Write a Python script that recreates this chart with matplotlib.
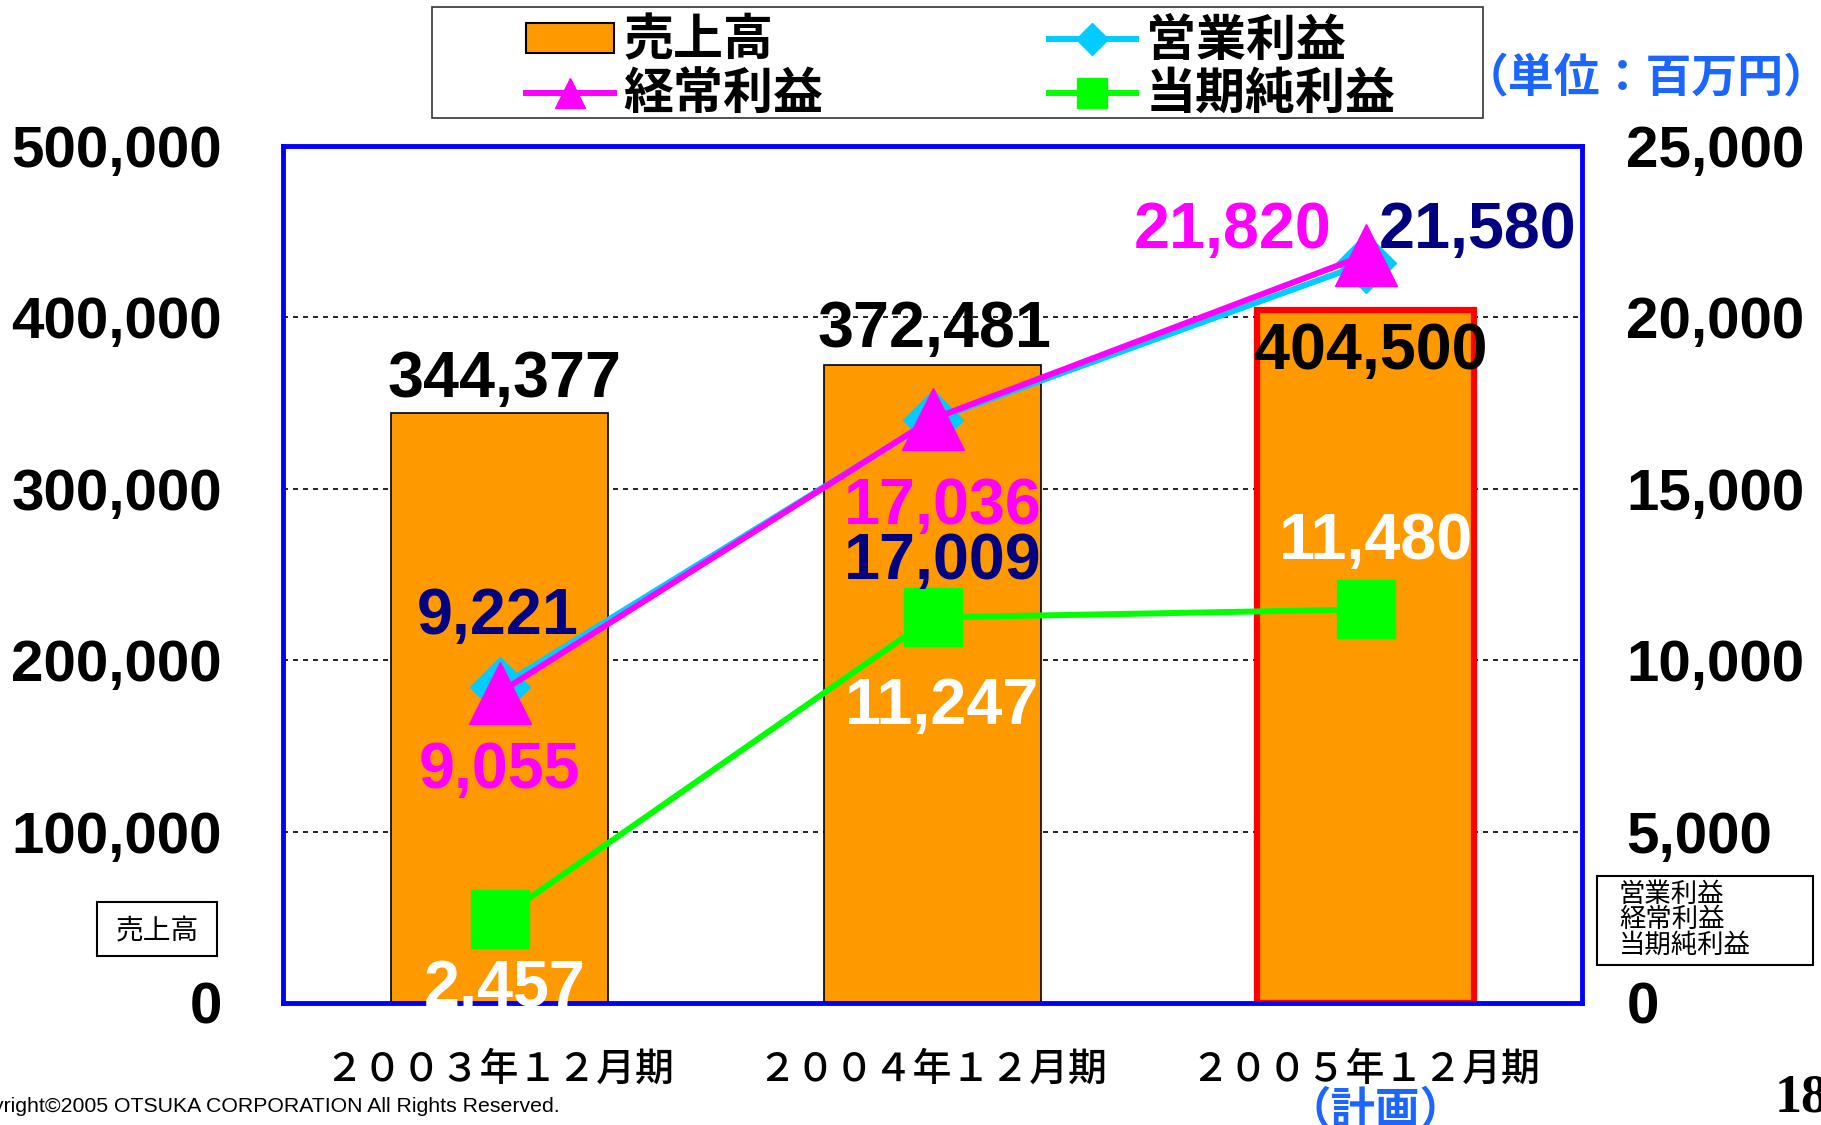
import matplotlib
matplotlib.use('Agg')
import matplotlib.pyplot as plt
from matplotlib.lines import Line2D
from matplotlib.patches import Patch, Rectangle

# data (百万円)
periods = ['２００３年１２月期', '２００４年１２月期', '２００５年１２月期']
sales = [344377, 372481, 404500]          # 売上高
op_profit = [9221, 17009, 21580]          # 営業利益
ord_profit = [9055, 17036, 21820]         # 経常利益
net_profit = [2457, 11247, 11480]         # 当期純利益
left_ticks = [0, 100000, 200000, 300000, 400000, 500000]
right_ticks = [0, 5000, 10000, 15000, 20000, 25000]

W, H = 1821, 1125
JP = 'Noto Sans CJK JP'
NUM = 'Liberation Sans'

def fx(px):
    return px / W

def fy(py):
    return 1 - py / H

fig = plt.figure(figsize=(W / 100, H / 100), dpi=100)
ax = fig.add_axes([fx(283), fy(1003), fx(1582) - fx(283), fy(146) - fy(1003)])
ax2 = ax.twinx()

x = list(range(len(periods)))

# bars
ax.bar(x, sales, width=0.5, color='#FF9900',
       edgecolor=['black', 'black', '#FF0000'], linewidth=[1.2, 1.2, 4.5], zorder=2)
ax.set_xlim(-0.5, 2.5)
ax.set_ylim(0, 500000)
ax.set_yticks(left_ticks)
ax.set_yticklabels(['{:,}'.format(v) for v in left_ticks], fontfamily=NUM,
                   fontweight='bold', fontsize=42)
ax.tick_params(axis='y', length=0, pad=44)
ax.set_xticks(x)
ax.set_xticklabels(periods, fontfamily=JP, fontsize=28, fontweight='medium')
ax.tick_params(axis='x', length=0, pad=34)
ax.set_axisbelow(True)
ax.yaxis.grid(True, color='black', linestyle=(0, (3, 3)), linewidth=1.2)
for s in ax.spines.values():
    s.set_color('#0000FF')
    s.set_linewidth(3.5)

# lines
ax2.plot(x, op_profit, color='#00CCFF', lw=4.3, marker='D', ms=31, zorder=3)
ax2.plot(x, ord_profit, color='#FF00FF', lw=4.3, marker='^', ms=44, zorder=4)
ax2.plot(x, net_profit, color='#00FF00', lw=4.3, marker='s', ms=42, zorder=5)
ax2.set_ylim(0, 25000)
ax2.set_yticks(right_ticks)
ax2.set_yticklabels(['{:,}'.format(v) for v in right_ticks], fontfamily=NUM,
                    fontweight='bold', fontsize=42)
ax2.tick_params(axis='y', length=0, pad=32)
for s in ax2.spines.values():
    s.set_visible(False)

# value labels (offsets in pixels from the point)
def label(axis, xs, ys, offs, color):
    for xi, yi, (dx, dy) in zip(xs, ys, offs):
        axis.annotate('{:,}'.format(yi), (xi, yi), xytext=(dx, dy),
                      textcoords='offset pixels', ha='center', va='center',
                      fontfamily=NUM, fontweight='bold', fontsize=46.5,
                      color=color, zorder=10)

label(ax, x, sales, [(5, 33), (2, 35), (5, -42)], 'black')
label(ax2, x, op_profit, [(-2, 70), (10, -142), (112, 32)], '#000080')
label(ax2, x, ord_profit, [(0, -78), (10, -88), (-133, 24)], '#FF00FF')
label(ax2, x, net_profit, [(5, -70), (10, -90), (10, 67)], 'white')

# legend
handles = [
    Patch(facecolor='#FF9900', edgecolor='black', linewidth=1.5),
    Line2D([], [], color='#FF00FF', lw=4.3, marker='^', ms=22),
    Line2D([], [], color='#00CCFF', lw=4.3, marker='D', ms=16),
    Line2D([], [], color='#00FF00', lw=4.3, marker='s', ms=22),
]
labels = ['売上高', '経常利益', '営業利益', '当期純利益']
fig.legend(handles, labels, loc='center', bbox_to_anchor=(fx(961), fy(68)),
           ncol=2, frameon=False, prop={'family': JP, 'weight': 'bold', 'size': 36},
           handlelength=1.75, handleheight=0.55, handletextpad=0.2,
           columnspacing=4.5, labelspacing=0.05, borderpad=0)
fig.add_artist(Rectangle((fx(432), fy(118)), fx(1483) - fx(432), fy(7) - fy(118),
                         transform=fig.transFigure, fill=False, edgecolor='#333333', lw=1.2))

fig.text(fx(1646), fy(78), '（単位：百万円）', ha='center', va='center',
         fontfamily=JP, fontweight='bold', fontsize=33, color='#1A66FF')

# axis caption boxes
fig.text(fx(157), fy(931), '売上高', ha='center', va='center', fontfamily=JP, fontsize=20)
fig.add_artist(Rectangle((fx(97), fy(956)), fx(217) - fx(97), fy(902) - fy(956),
                         transform=fig.transFigure, fill=False, edgecolor='black', lw=1.5))
for txt, py in zip(['営業利益', '経常利益', '当期純利益'], [894, 919, 945]):
    fig.text(fx(1619), fy(py), txt, ha='left', va='center', fontfamily=JP, fontsize=19)
fig.add_artist(Rectangle((fx(1597), fy(965)), fx(1813) - fx(1597), fy(876) - fy(965),
                         transform=fig.transFigure, fill=False, edgecolor='black', lw=1.5))

ax.annotate('（計画）', (2, 0), xycoords=('data', 'axes fraction'), xytext=(10, -108),
            textcoords='offset pixels', ha='center', va='center', fontfamily=JP,
            fontsize=32, fontweight='bold', color='#1A66FF', annotation_clip=False)

fig.text(fx(560), fy(1107), 'Copyright©2005 OTSUKA CORPORATION All Rights Reserved.',
         ha='right', va='center', fontfamily=NUM, fontsize=15.3)
fig.text(fx(1775), fy(1098), '18', ha='left', va='center', fontfamily='Liberation Serif',
         fontweight='bold', fontsize=39)

fig.savefig('out.png', dpi=100)
